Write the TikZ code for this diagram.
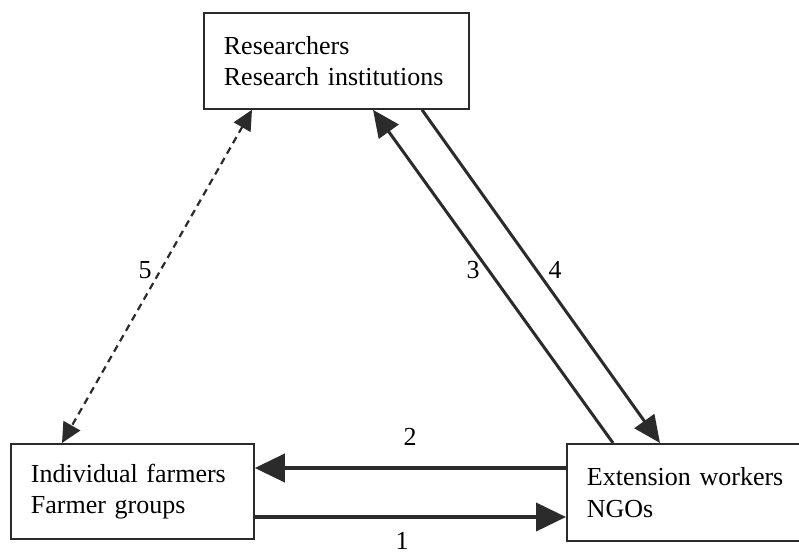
\documentclass[tikz,border=0pt]{standalone}
\usepackage{fontspec}
\setmainfont{Liberation Serif}
\usetikzlibrary{arrows.meta,calc}
\definecolor{ink}{HTML}{2B2B2B}
\begin{document}
\begin{tikzpicture}[x=1pt,y=-1pt,
  actor/.style={draw=ink,line width=1.8pt,rectangle,anchor=north west,
    align=left,inner xsep=20pt,inner ysep=0pt,
    font=\fontsize{26}{31.5}\selectfont},
  flowh/.style={draw=ink,line width=4pt,
    -{Triangle[length=30pt,width=28pt]},color=ink},
  flowd/.style={draw=ink,line width=3pt,
    -{Triangle[length=27pt,width=24pt]},color=ink},
  informal/.style={draw=ink,line width=2.2pt,dash pattern=on 7pt off 5pt,
    {Triangle[length=20pt,width=19pt]}-{Triangle[length=20pt,width=19pt]},color=ink},
  num/.style={font=\fontsize{26}{30}\selectfont,inner sep=0pt}]
\useasboundingbox (0,0) rectangle (799,556);
\clip (0,0) rectangle (799,556);
\fill[white] (0,0) rectangle (799,556);

% the three actors
\node[actor,minimum width=265pt,minimum height=96pt,text width=225pt] (res) at (203,12)
  {Researchers\\Research institutions};
\node[actor,minimum width=243pt,minimum height=95pt,text width=203pt] (farm) at (10,443)
  {Individual farmers\\Farmer groups};
\node[actor,minimum width=300pt,minimum height=97pt,text width=260pt] (ext) at (566,443)
  {Extension workers\\NGOs};

% anchor points of the links
\coordinate (e2) at ($(ext.north west)+(0,25)$);
\coordinate (f2) at ($(farm.north east)+(0,25)$);
\coordinate (f1) at ($(farm.north east)+(0,74)$);
\coordinate (e1) at ($(ext.north west)+(0,74)$);
\coordinate (e3) at ($(ext.north west)+(47,0)$);
\coordinate (r3) at ($(res.south west)+(170,0)$);
\coordinate (r4) at ($(res.south west)+(219,0)$);
\coordinate (e4) at ($(ext.north west)+(94,0)$);
\coordinate (r5) at ($(res.south west)+(49,0)$);
\coordinate (f5) at ($(farm.north west)+(52,0)$);

% links
\draw[flowh] (e2) -- (f2);
\draw[flowh] (f1) -- (e1);
\draw[flowd] (e3) -- (r3);
\draw[flowd] (r4) -- (e4);
\draw[informal] (r5) -- (f5);

% link numbers
\node[num] (n1) at (402,541) {1};
\node[num] (n2) at (410,437) {2};
\node[num] (n3) at (473,270) {3};
\node[num] (n4) at (555,270) {4};
\node[num] (n5) at (145,270) {5};
\end{tikzpicture}
\end{document}
